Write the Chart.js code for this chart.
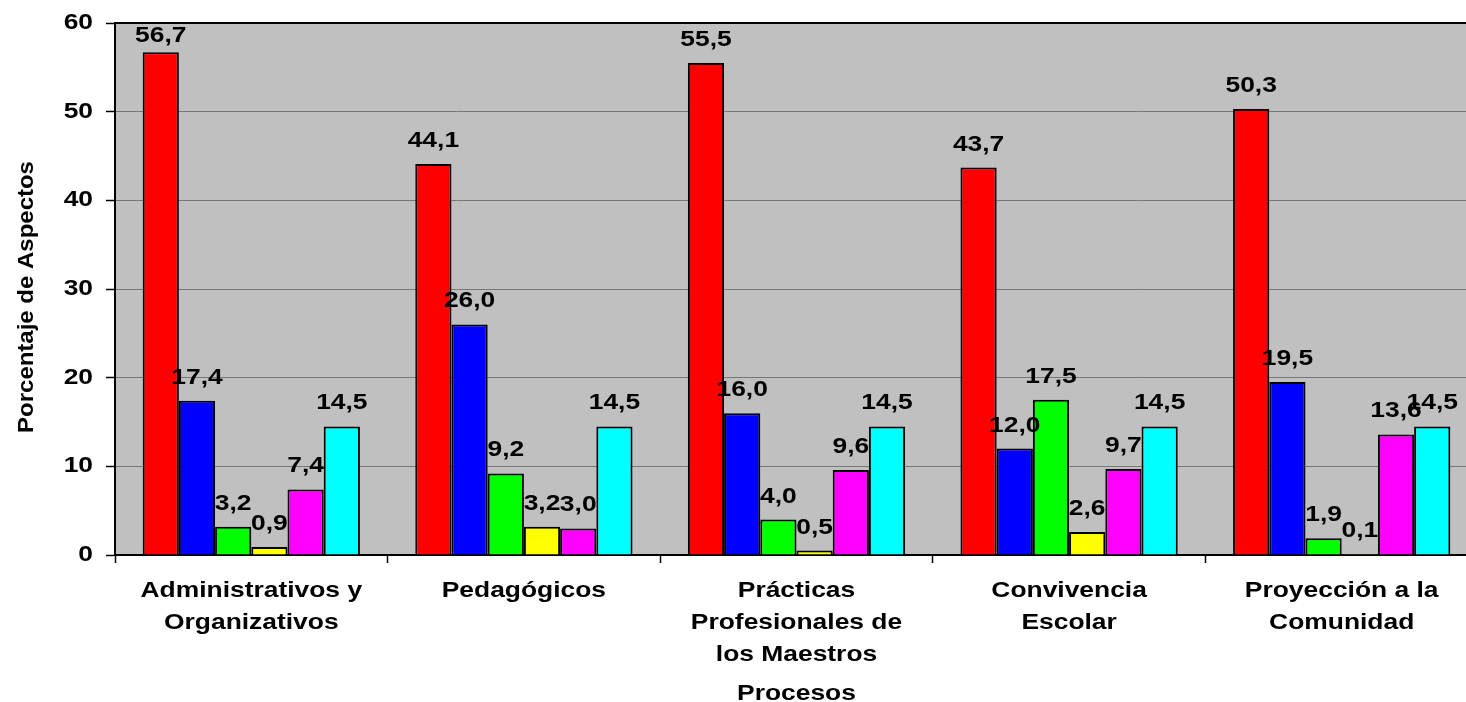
<!DOCTYPE html>
<html>
<head>
<meta charset="utf-8">
<script src="https://cdn.jsdelivr.net/npm/chart.js@4/dist/chart.umd.min.js"></script>
<style>
  html, body { margin: 0; padding: 0; background: #fff; overflow: hidden; }
  #wrap { width: 1478px; height: 702px; }
</style>
</head>
<body>
<div id="wrap"><canvas id="c" width="1478" height="702"></canvas></div>
<script>
const categories = [
  ["Administrativos y", "Organizativos"],
  ["Pedagógicos"],
  ["Prácticas", "Profesionales de", "los Maestros"],
  ["Convivencia", "Escolar"],
  ["Proyección a la", "Comunidad"]
];
const seriesNames = ["Serie 1", "Serie 2", "Serie 3", "Serie 4", "Serie 5", "Serie 6"];
const serie1 = [56.7, 44.1, 55.5, 43.7, 50.3];
const serie2 = [17.4, 26.0, 16.0, 12.0, 19.5];
const serie3 = [3.2, 9.2, 4.0, 17.5, 1.9];
const serie4 = [0.9, 3.2, 0.5, 2.6, 0.1];
const serie5 = [7.4, 3.0, 9.6, 9.7, 13.6];
const serie6 = [14.5, 14.5, 14.5, 14.5, 14.5];
const seriesColors = ["#FF0000", "#0000FF", "#00FF00", "#FFFF00", "#FF00FF", "#00FFFF"];
const yTicks = [0, 10, 20, 30, 40, 50, 60];
const yTitle = "Porcentaje de Aspectos";
const xTitle = "Procesos";

const FONT = '"Liberation Sans", Arial, sans-serif';
const allSeries = [serie1, serie2, serie3, serie4, serie5, serie6];

// Horizontally widened text (the original chart's lettering is stretched)
let textStretch = 1.2;
const origFillText = CanvasRenderingContext2D.prototype.fillText;
CanvasRenderingContext2D.prototype.fillText = function (t, x, y, maxW) {
  if (textStretch !== 1) {
    this.save();
    this.translate(x, y);
    this.scale(textStretch, 1);
    origFillText.call(this, t, 0, 0);
    this.restore();
  } else {
    if (maxW === undefined) origFillText.call(this, t, x, y);
    else origFillText.call(this, t, x, y, maxW);
  }
};

const decorPlugin = {
  id: 'decor',
  beforeDraw(chart) {
    const ctx = chart.ctx, a = chart.chartArea;
    ctx.save();
    ctx.fillStyle = '#FFFFFF';
    ctx.fillRect(0, 0, chart.width, chart.height);
    ctx.fillStyle = '#C0C0C0';
    ctx.fillRect(a.left, a.top, a.right - a.left, a.bottom - a.top);
    ctx.restore();
  },
  beforeDatasetsDraw(chart) {
    const ctx = chart.ctx, a = chart.chartArea;
    ctx.save();
    ctx.strokeStyle = '#000';
    ctx.lineWidth = 2;
    ctx.beginPath();
    ctx.moveTo(a.left, a.top);
    ctx.lineTo(a.right, a.top);
    ctx.stroke();
    ctx.restore();
  },
  afterDatasetsDraw(chart) {
    const ctx = chart.ctx, a = chart.chartArea;
    ctx.save();
    ctx.font = 'bold 22px ' + FONT;
    ctx.fillStyle = '#000';
    ctx.textAlign = 'center';
    ctx.textBaseline = 'alphabetic';
    chart.data.datasets.forEach((ds, di) => {
      const meta = chart.getDatasetMeta(di);
      meta.data.forEach((bar, i) => {
        const txt = ds.data[i].toFixed(1).replace('.', ',');
        let y = bar.y - 17;
        if (y - 16 < a.top + 3) y = a.top + 19;
        ctx.fillText(txt, bar.x, y);
      });
    });
    ctx.restore();
  },
  afterDraw(chart) {
    const ctx = chart.ctx, a = chart.chartArea;
    ctx.save();
    ctx.fillStyle = '#000';
    ctx.font = 'bold 22px ' + FONT;
    ctx.textAlign = 'center';
    ctx.textBaseline = 'alphabetic';
    ctx.fillText(xTitle, (a.left + a.right) / 2, 700);
    ctx.translate(33, 297);
    ctx.rotate(-Math.PI / 2);
    const prev = textStretch;
    textStretch = 1.09;
    ctx.fillText(yTitle, 0, 0);
    textStretch = prev;
    ctx.restore();
  }
};

new Chart(document.getElementById('c'), {
  type: 'bar',
  data: {
    labels: categories,
    datasets: allSeries.map((d, i) => ({
      label: seriesNames[i],
      data: d,
      backgroundColor: seriesColors[i],
      borderColor: '#000000',
      borderWidth: 2,
      categoryPercentage: 0.797,
      barPercentage: 1.0
    }))
  },
  options: {
    responsive: false,
    animation: false,
    devicePixelRatio: 1,
    layout: { padding: { top: 23, left: 0, right: 0, bottom: 0 } },
    plugins: {
      legend: { display: false },
      tooltip: { enabled: false }
    },
    scales: {
      x: {
        afterFit(s) { s.height = 147; s.paddingLeft = 0; s.paddingRight = 0; },
        grid: {
          offset: true,
          drawOnChartArea: false,
          drawTicks: true,
          tickLength: 8,
          tickColor: '#000',
          tickWidth: 1.5
        },
        border: { color: '#000', width: 2 },
        ticks: {
          color: '#000',
          font: { family: FONT, size: 22, weight: 'bold', lineHeight: 32 / 22 },
          padding: 12,
          maxRotation: 0,
          autoSkip: false
        }
      },
      y: {
        min: 0,
        max: 60,
        afterFit(s) { s.width = 115; s.paddingTop = 0; s.paddingBottom = 0; },
        afterBuildTicks(s) { s.ticks = yTicks.map(v => ({ value: v })); },
        grid: {
          color: '#777777',
          lineWidth: 1,
          drawTicks: true,
          tickLength: 9,
          tickColor: '#000',
          tickWidth: 1.5
        },
        border: { color: '#000', width: 2 },
        ticks: {
          color: '#000',
          font: { family: FONT, size: 22, weight: 'bold' },
          padding: 13,
          callback: v => String(v)
        }
      }
    }
  },
  plugins: [decorPlugin]
});
</script>
</body>
</html>
